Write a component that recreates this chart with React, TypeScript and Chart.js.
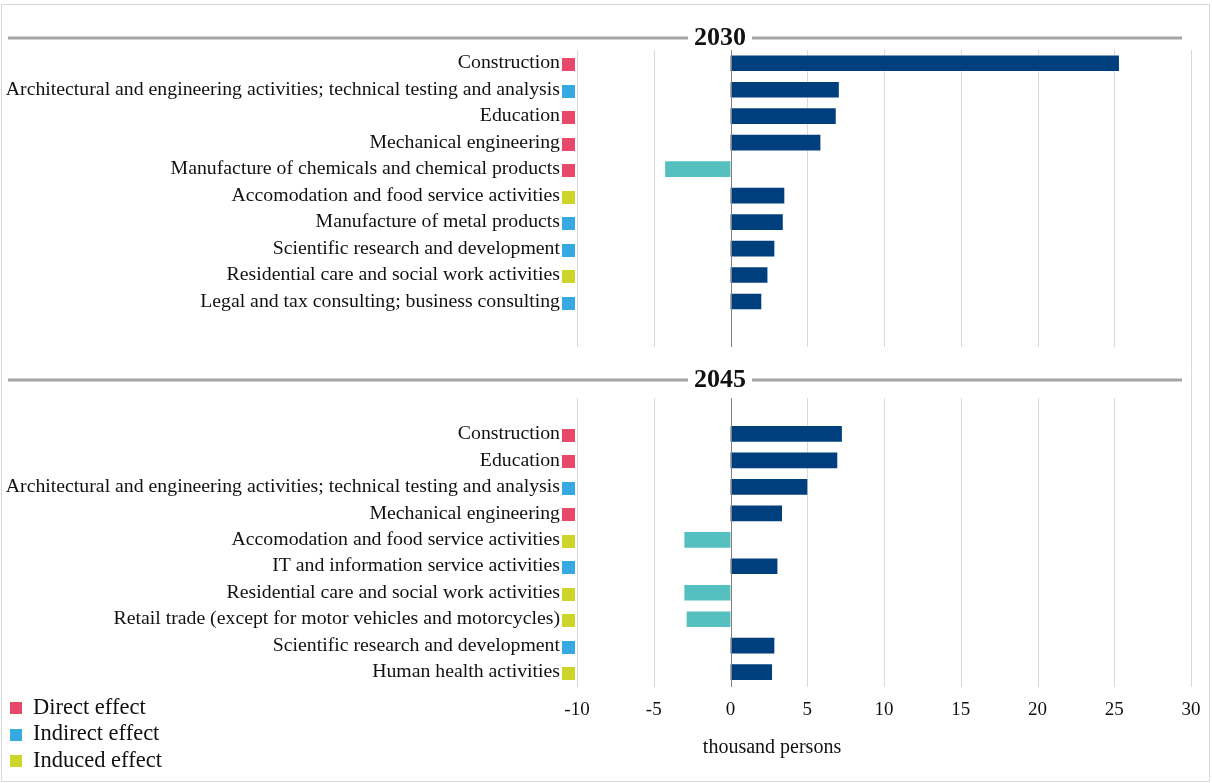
import React, { useEffect, useRef } from "react";
import { Chart, registerables } from "chart.js";

Chart.register(...registerables);

// Employment effects, thousand persons
const sectors2030 = [
  "Construction",
  "Architectural and engineering activities; technical testing and analysis",
  "Education",
  "Mechanical engineering",
  "Manufacture of chemicals and chemical products",
  "Accomodation and food service activities",
  "Manufacture of metal products",
  "Scientific research and development",
  "Residential care and social work activities",
  "Legal and tax consulting; business consulting",
];
const values2030 = [25.35, 7.1, 6.9, 5.9, -4.3, 3.55, 3.45, 2.9, 2.45, 2.05];
const effects2030 = ["direct", "indirect", "direct", "direct", "direct", "induced", "indirect", "indirect", "induced", "indirect"];

const sectors2045 = [
  "Construction",
  "Education",
  "Architectural and engineering activities; technical testing and analysis",
  "Mechanical engineering",
  "Accomodation and food service activities",
  "IT and information service activities",
  "Residential care and social work activities",
  "Retail trade (except for motor vehicles and motorcycles)",
  "Scientific research and development",
  "Human health activities",
];
const values2045 = [7.3, 7.0, 5.05, 3.4, -3.05, 3.1, -3.05, -2.9, 2.9, 2.75];
const effects2045 = ["direct", "direct", "indirect", "direct", "induced", "indirect", "induced", "induced", "indirect", "induced"];

const panelYears = ["2030", "2045"];
const xTicks = [-10, -5, 0, 5, 10, 15, 20, 25, 30];
const effectKeys = ["direct", "indirect", "induced"];
const effectNames = ["Direct effect", "Indirect effect", "Induced effect"];
const axisTitle = "thousand persons";

const effectColors: Record<string, string> = {
  direct: "#E8496B",
  indirect: "#37A9E1",
  induced: "#CDD52B",
};
const POS_COLOR = "#003F7D";
const NEG_COLOR = "#56BFC0";
const GRID_COLOR = "#D9D9D9";
const RULE_COLOR = "#A6A6A6";
const TEXT_COLOR = "#111111";
const SERIF = '"Liberation Serif", "Times New Roman", serif';

// Row layout on the index axis: the second panel starts 14 rows below the first
const PANEL_OFFSET = 14;
const panelBands = [
  [-0.5, 10.72],
  [12.65, 23.56],
];

type Row = { x: number; y: number; label: string; effect: string };

const rows: Row[] = [
  ...values2030.map((v, i) => ({ x: v, y: i, label: sectors2030[i], effect: effects2030[i] })),
  ...values2045.map((v, i) => ({ x: v, y: i + PANEL_OFFSET, label: sectors2045[i], effect: effects2045[i] })),
];

const decorPlugin = {
  id: "decor",
  beforeDatasetsDraw(chart: any) {
    const { ctx, scales } = chart;
    const xs = scales.x;
    const ys = scales.y;
    ctx.save();
    ctx.lineWidth = 1;
    ctx.strokeStyle = GRID_COLOR;
    for (const t of xTicks) {
      if (t === 0) continue;
      const px = Math.round(xs.getPixelForValue(t)) + 0.5;
      if (t === xTicks[xTicks.length - 1]) {
        ctx.beginPath();
        ctx.moveTo(px, ys.getPixelForValue(panelBands[0][0]));
        ctx.lineTo(px, ys.getPixelForValue(panelBands[1][1]));
        ctx.stroke();
        continue;
      }
      for (const [a, b] of panelBands) {
        ctx.beginPath();
        ctx.moveTo(px, ys.getPixelForValue(a));
        ctx.lineTo(px, ys.getPixelForValue(b));
        ctx.stroke();
      }
    }
    ctx.restore();
  },
  afterDatasetsDraw(chart: any) {
    const { ctx, scales } = chart;
    const xs = scales.x;
    const ys = scales.y;
    ctx.save();
    // zero axis line
    ctx.strokeStyle = "#808080";
    ctx.lineWidth = 1;
    const zx = Math.round(xs.getPixelForValue(0)) + 0.5;
    for (const [a, b] of panelBands) {
      ctx.beginPath();
      ctx.moveTo(zx, ys.getPixelForValue(a));
      ctx.lineTo(zx, ys.getPixelForValue(b));
      ctx.stroke();
    }

    // category labels and effect markers
    const left = chart.chartArea.left;
    ctx.font = `19.8px ${SERIF}`;
    ctx.textAlign = "right";
    ctx.textBaseline = "middle";
    for (const r of rows) {
      const cy = ys.getPixelForValue(r.y);
      ctx.fillStyle = TEXT_COLOR;
      ctx.fillText(r.label, left - 17, cy);
      ctx.fillStyle = effectColors[r.effect];
      ctx.fillRect(left - 15, Math.round(cy) - 5, 13, 13);
    }

    // panel titles with rules
    const titleY = [38, 380];
    panelYears.forEach((yr, i) => {
      const y = titleY[i];
      ctx.strokeStyle = RULE_COLOR;
      ctx.lineWidth = 3;
      ctx.beginPath();
      ctx.moveTo(8, y);
      ctx.lineTo(688, y);
      ctx.moveTo(752, y);
      ctx.lineTo(1182, y);
      ctx.stroke();
      ctx.fillStyle = TEXT_COLOR;
      ctx.font = `bold 26px ${SERIF}`;
      ctx.textAlign = "center";
      ctx.textBaseline = "middle";
      ctx.fillText(yr, 720, y);
    });

    // axis title
    ctx.font = `20px ${SERIF}`;
    ctx.textAlign = "center";
    ctx.textBaseline = "middle";
    ctx.fillStyle = TEXT_COLOR;
    ctx.fillText(axisTitle, 772, 748);

    // legend
    ctx.font = `22.5px ${SERIF}`;
    ctx.textAlign = "left";
    effectKeys.forEach((k, i) => {
      const y = 708 + i * 26.5;
      ctx.fillStyle = effectColors[k];
      ctx.fillRect(10, Math.round(y) - 6, 12, 12);
      ctx.fillStyle = TEXT_COLOR;
      ctx.fillText(effectNames[i], 33, y);
    });

    // outer frame
    ctx.strokeStyle = GRID_COLOR;
    ctx.lineWidth = 1;
    ctx.strokeRect(1.5, 4.5, 1208, 777);
    ctx.restore();
  },
};

export default function App() {
  const canvasRef = useRef<HTMLCanvasElement | null>(null);

  useEffect(() => {
    const canvas = canvasRef.current;
    if (!canvas) return;
    const chart = new Chart(canvas, {
      type: "bar",
      data: {
        datasets: [
          {
            data: rows.map((r) => ({ x: r.x, y: r.y })),
            backgroundColor: (c: any) => ((c.raw?.x ?? 0) < 0 ? NEG_COLOR : POS_COLOR),
            borderColor: "rgba(255,255,255,0.35)",
            borderWidth: 1,
            barThickness: 17,
          },
        ],
      },
      options: {
        indexAxis: "y",
        responsive: false,
        animation: false,
        layout: { padding: { left: 577, right: 21, top: 50, bottom: 0 } },
        plugins: {
          legend: { display: false },
          tooltip: { enabled: false },
        },
        scales: {
          x: {
            type: "linear",
            min: -10,
            max: 30,
            ticks: {
              stepSize: 5,
              color: TEXT_COLOR,
              font: { family: SERIF, size: 19 },
              padding: 4,
              maxRotation: 0,
            },
            grid: { display: false },
            border: { display: false },
            afterFit: (s: any) => {
              s.height = 96;
            },
          },
          y: {
            type: "linear",
            reverse: true,
            offset: false,
            min: -0.5,
            max: 23.56,
            display: false,
            grid: { offset: false },
          },
        },
      },
      plugins: [decorPlugin],
    });
    return () => chart.destroy();
  }, []);

  return (
    <div style={{ position: "fixed", left: 0, top: 0, width: 1212, height: 783, background: "#fff" }}>
      <canvas ref={canvasRef} width={1212} height={783} style={{ width: 1212, height: 783, display: "block" }} />
    </div>
  );
}
